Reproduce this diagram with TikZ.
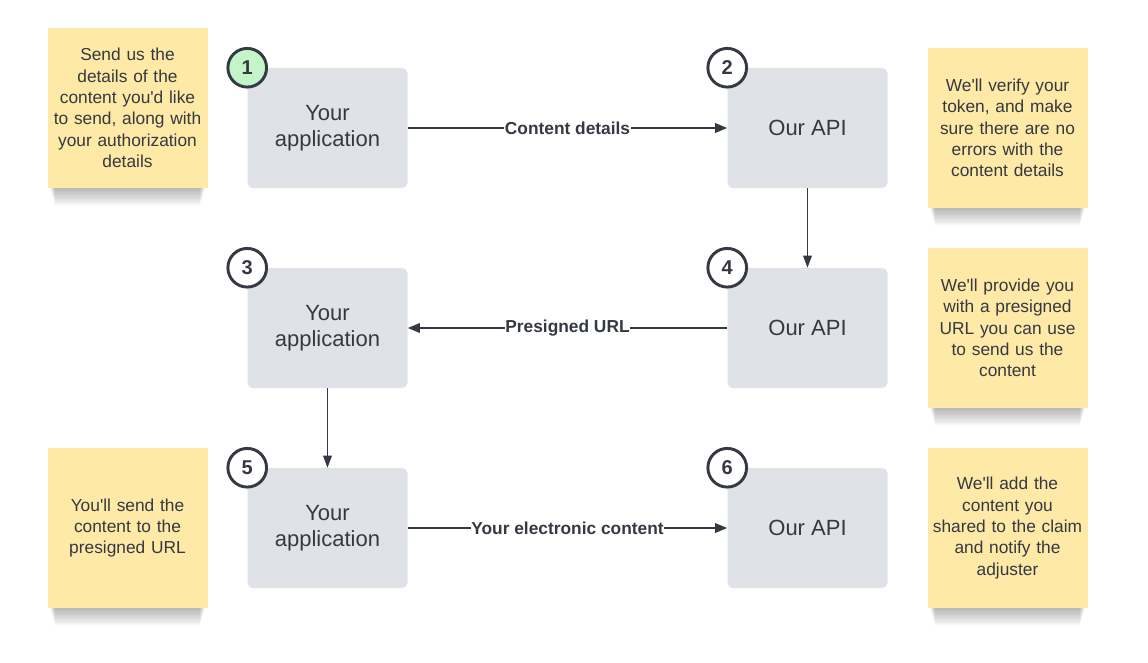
\documentclass[tikz,border=0pt]{standalone}
\usepackage{fontspec}
\setmainfont{Liberation Sans}
\usetikzlibrary{arrows.meta}

\definecolor{notefill}{RGB}{254,233,166}
\definecolor{boxfill}{RGB}{223,226,231}
\definecolor{inkdark}{RGB}{52,57,66}
\definecolor{stepgreen}{RGB}{195,245,200}

% soft shadow under a sticky note
\newcommand{\noteshadow}[1]{%
  \foreach \d in {1,...,13}
    \fill[black, opacity=0.022] ([xshift=2pt+0.3*\d pt]#1.south west) rectangle ([xshift=-2pt-0.3*\d pt,yshift=\d pt]#1.south east);
}
\newcommand{\ap}{\textquotesingle}

\begin{document}
\begin{tikzpicture}[x=0.75pt,y=0.75pt,yscale=-1,xscale=1,
  note/.style={fill=notefill, minimum width=120pt, minimum height=120pt, text width=112pt, align=center, inner sep=0pt, text=inkdark, font=\fontsize{13}{16}\selectfont},
  party/.style={fill=boxfill, rounded corners=4pt, minimum width=120pt, minimum height=90pt, align=center, text=inkdark, font=\fontsize{16.5}{19.5}\selectfont},
  stepnum/.style={circle, draw=inkdark, line width=2.2pt, fill=white, minimum size=29pt, inner sep=0pt, text=inkdark, font=\fontsize{15}{15}\bfseries\selectfont},
  flow/.style={draw=inkdark, line width=1.5pt, -{Triangle[length=9pt,width=7pt]}},
  drop/.style={draw=inkdark, line width=0.8pt, -{Triangle[length=9pt,width=6.5pt]}},
  flowlabel/.style={fill=white, inner sep=0.5pt, text=inkdark, font=\fontsize{13}{13}\bfseries\selectfont}
]

\path[use as bounding box] (0,0) rectangle (1148,663);

% Sticky notes
\node[note] (tip1) at (127.5,108) {Send us the\\details of the\\content you\ap d like\\to send, along with\\your authorization\\details};
\node[note] (tip2) at (1007.5,128) {We\ap ll verify your\\token, and make\\sure there are no\\errors with the\\content details};
\node[note] (tip4) at (1007.5,328) {We\ap ll provide you\\with a presigned\\URL you can use\\to send us the\\content};
\node[note] (tip5) at (127.5,528) {You\ap ll send the\\content to the\\presigned URL};
\node[note] (tip6) at (1007.5,528) {We\ap ll add the\\content you\\shared to the claim\\and notify the\\adjuster};
\noteshadow{tip1}
\noteshadow{tip2}
\noteshadow{tip4}
\noteshadow{tip5}
\noteshadow{tip6}

% Boxes
\node[party] (app1) at (327.5,128) {Your\\application};
\node[party] (api2) at (807.5,128) {Our API};
\node[party] (app3) at (327.5,328) {Your\\application};
\node[party] (api4) at (807.5,328) {Our API};
\node[party] (app5) at (327.5,528) {Your\\application};
\node[party] (api6) at (807.5,528) {Our API};

% Arrows
\draw[flow] (app1) -- node[flowlabel] {Content details} (api2);
\draw[drop] (api2) -- (api4);
\draw[flow] (api4) -- node[flowlabel] {Presigned URL} (app3);
\draw[drop] (app3) -- (app5);
\draw[flow] (app5) -- node[flowlabel] {Your electronic content} (api6);

% Step numbers
\node[stepnum, fill=stepgreen] (n1) at (app1.north west) {1};
\node[stepnum] (n2) at (api2.north west) {2};
\node[stepnum] (n3) at (app3.north west) {3};
\node[stepnum] (n4) at (api4.north west) {4};
\node[stepnum] (n5) at (app5.north west) {5};
\node[stepnum] (n6) at (api6.north west) {6};

\end{tikzpicture}
\end{document}
